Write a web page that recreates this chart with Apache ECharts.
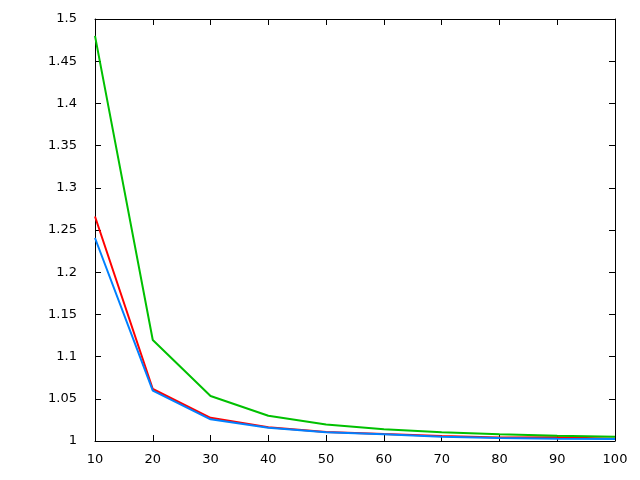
<!DOCTYPE html>
<html><head><meta charset="utf-8">
<script src="https://cdn.jsdelivr.net/npm/echarts@6/dist/echarts.min.js"></script>
<style>html,body{margin:0;padding:0;background:#fff}#c{width:640px;height:480px}</style>
</head><body><div id="c"></div>
<script>
var xValues = [10, 20, 30, 40, 50, 60, 70, 80, 90, 100];
var redValues = [1.266, 1.0616, 1.0275, 1.0162, 1.0108, 1.0082, 1.0058, 1.0042, 1.0044, 1.0028];
var greenValues = [1.480, 1.1197, 1.0533, 1.0300, 1.0195, 1.0138, 1.0103, 1.0079, 1.0063, 1.0051];
var blueValues = [1.2405, 1.0598, 1.0257, 1.0157, 1.0103, 1.0080, 1.0051, 1.0036, 1.0027, 1.0024];

function pairs(vals){ return xValues.map(function(x,i){return [x, vals[i]];}); }
var font = {color:'#000', fontSize:13, fontFamily:'DejaVu Sans'};
var chart = echarts.init(document.getElementById('c'), null, {renderer:'canvas'});
function axisBase(pos, labels){
  return {
    position: pos,
    axisLine:{show:true, onZero:false, lineStyle:{color:'#000', width:1}},
    axisTick:{show:true, inside:true, length:6, lineStyle:{color:'#000'}},
    axisLabel: labels ? Object.assign({show:true, margin:14}, font) : {show:false},
    splitLine:{show:false}
  };
}
var xb = Object.assign({type:'value', min:10, max:100, interval:10}, axisBase('bottom', true));
var xt = Object.assign({type:'value', min:10, max:100, interval:10}, axisBase('top', false));
var yl = Object.assign({type:'value', min:1, max:1.5, interval:0.05}, axisBase('left', true));
var yr = Object.assign({type:'value', min:1, max:1.5, interval:0.05}, axisBase('right', false));
yl.axisLabel.margin = 18;
xb.axisLabel.margin = 12;
function line(vals, color){
  return {type:'line', data:pairs(vals), symbol:'none', animation:false,
    lineStyle:{color:color, width:2}, itemStyle:{color:color}, xAxisIndex:0, yAxisIndex:0};
}
chart.setOption({
  animation:false,
  grid:{left:95, right:25, top:19, bottom:39, containLabel:false},
  xAxis:[xb, xt],
  yAxis:[yl, yr],
  series:[line(redValues,'#ff0000'), line(greenValues,'#00c000'), line(blueValues,'#0080ff')]
});
</script></body></html>
